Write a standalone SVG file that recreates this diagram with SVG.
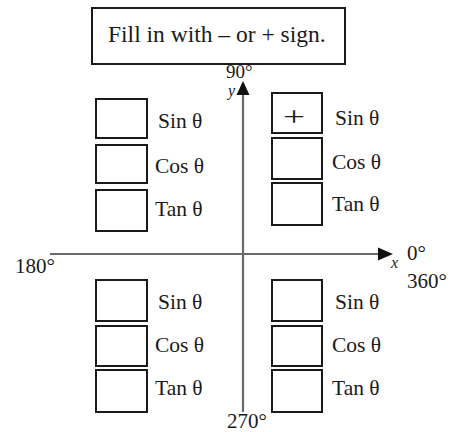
<svg xmlns="http://www.w3.org/2000/svg" width="452" height="432" viewBox="0 0 452 432">
  <defs>
    <style>
      .t { font-family: "Liberation Serif", "Times New Roman", serif; font-size: 21.5px; fill: #1a1a1a; }
      .d { font-family: "Liberation Serif", "Times New Roman", serif; font-size: 21px; fill: #1a1a1a; }
      .small { font-size: 19px; }
      .var { font-size: 16px; font-style: italic; }
      .plus { font-size: 28px; }
      .title { font-family: "Liberation Serif", "Times New Roman", serif; font-size: 23.5px; fill: #1a1a1a; }
      .box { fill: #ffffff; stroke: #1a1a1a; stroke-width: 2; }
      .axis { stroke: #6a6a6a; stroke-width: 2.2; fill: none; }
    </style>
  </defs>
  <rect width="452" height="432" fill="#ffffff"/>

  <!-- instruction banner -->
  <g id="title">
    <rect class="box" x="92" y="8" width="253" height="56"/>
    <text class="title" x="108" y="42">Fill in with – or + sign.</text>
  </g>

  <!-- axes -->
  <g id="connectors">
    <line class="axis" x1="243" y1="412" x2="243" y2="90"/>
    <path d="M243,81 L236.5,95 L249.5,95 z" fill="#111111"/>
    <line class="axis" x1="50" y1="254" x2="380" y2="254"/>
    <path d="M393,254 L378,247.5 L378,260.5 z" fill="#111111"/>
  </g>

  <!-- angle labels -->
  <g id="axis-labels">
    <text class="d small" x="226" y="78">90°</text>
    <text class="d var" x="228" y="96">y</text>
    <text class="d" x="15" y="273">180°</text>
    <text class="d var" x="391" y="268">x</text>
    <text class="d" x="407" y="260">0°</text>
    <text class="d" x="407" y="288">360°</text>
    <text class="d" x="227" y="428">270°</text>
  </g>

  <!-- quadrant II -->
  <g id="q2-sin"><rect class="box" x="96" y="99" width="51" height="39"/><text class="t" x="158" y="128">Sin θ</text></g>
  <g id="q2-cos"><rect class="box" x="96" y="145" width="51" height="38"/><text class="t" x="155" y="173">Cos θ</text></g>
  <g id="q2-tan"><rect class="box" x="96" y="190" width="51" height="41"/><text class="t" x="155" y="216">Tan θ</text></g>

  <!-- quadrant I -->
  <g id="q1-sin"><rect class="box" x="272" y="93" width="50" height="40"/><text class="t plus" transform="translate(283,126) scale(1.4,1)">+</text><text class="t" x="335" y="125">Sin θ</text></g>
  <g id="q1-cos"><rect class="box" x="272" y="138" width="50" height="41"/><text class="t" x="332" y="169">Cos θ</text></g>
  <g id="q1-tan"><rect class="box" x="272" y="183" width="50" height="42"/><text class="t" x="332" y="211">Tan θ</text></g>

  <!-- quadrant III -->
  <g id="q3-sin"><rect class="box" x="96" y="280" width="51" height="41"/><text class="t" x="158" y="309">Sin θ</text></g>
  <g id="q3-cos"><rect class="box" x="96" y="326" width="51" height="40"/><text class="t" x="155" y="352">Cos θ</text></g>
  <g id="q3-tan"><rect class="box" x="96" y="370" width="51" height="42"/><text class="t" x="155" y="395">Tan θ</text></g>

  <!-- quadrant IV -->
  <g id="q4-sin"><rect class="box" x="272" y="280" width="50" height="41"/><text class="t" x="335" y="309">Sin θ</text></g>
  <g id="q4-cos"><rect class="box" x="272" y="326" width="50" height="40"/><text class="t" x="332" y="352">Cos θ</text></g>
  <g id="q4-tan"><rect class="box" x="272" y="370" width="50" height="42"/><text class="t" x="332" y="395">Tan θ</text></g>
</svg>
